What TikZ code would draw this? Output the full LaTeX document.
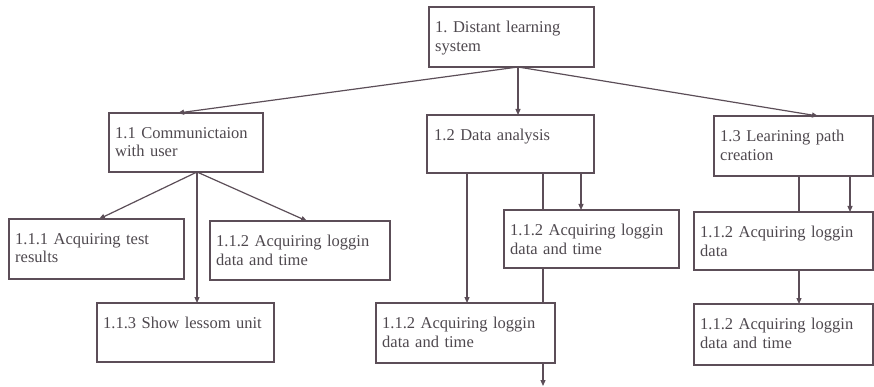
\documentclass[tikz,border=0pt]{standalone}
\usepackage{fontspec}
\setmainfont{Liberation Serif}
\usetikzlibrary{arrows.meta}
\definecolor{edge}{RGB}{92,78,88}
\definecolor{ink}{RGB}{78,72,78}
\tikzset{
  box/.style={draw=edge, line width=1.2pt, rectangle, inner sep=0pt, outer sep=0pt, anchor=north west},
  txt/.style={anchor=north west, inner sep=0pt, align=left, text=ink,
    font=\fontsize{16.5}{18.5}\selectfont\frenchspacing},
  link/.style={draw=edge, line width=1.2pt},
  arr/.style={link, -{Triangle[length=6pt,width=5pt]}},
}
\begin{document}
\begin{tikzpicture}[x=1pt,y=-1pt]
\useasboundingbox (0,0) rectangle (874,387);

% boxes
\node[box, minimum width=165pt, minimum height=60pt] (n1)   at (429,7)   {};
\node[box, minimum width=154pt, minimum height=59pt] (n11)  at (109,113) {};
\node[box, minimum width=167pt, minimum height=58pt] (n12)  at (427,115) {};
\node[box, minimum width=159pt, minimum height=60pt] (n13)  at (714,116) {};
\node[box, minimum width=175pt, minimum height=60pt] (n111) at (9,219)   {};
\node[box, minimum width=180pt, minimum height=59pt] (n112) at (210,221) {};
\node[box, minimum width=177pt, minimum height=59pt] (n113) at (97,303)  {};
\node[box, minimum width=175pt, minimum height=58pt] (n12a) at (504,210) {};
\node[box, minimum width=179pt, minimum height=60pt] (n12b) at (376,303) {};
\node[box, minimum width=179pt, minimum height=58pt] (n13a) at (694,212) {};
\node[box, minimum width=179pt, minimum height=61pt] (n13b) at (694,304) {};

% labels
\node[txt, text width=155pt] (t1)   at (435,21)  {1. Distant learning\\system};
\node[txt, text width=145pt] (t11)  at (115,127) {1.1 Communictaion\\with user};
\node[txt, text width=155pt] (t12)  at (434,129) {1.2 Data analysis};
\node[txt, text width=150pt] (t13)  at (720,130) {1.3 Learining path\\creation};
\node[txt, text width=165pt] (t111) at (15,233)  {1.1.1 Acquiring test\\results};
\node[txt, text width=170pt] (t112) at (216,235) {1.1.2 Acquiring loggin\\data and time};
\node[txt, text width=165pt] (t113) at (103,317) {1.1.3 Show lessom unit};
\node[txt, text width=170pt] (t12a) at (510,224) {1.1.2 Acquiring loggin\\data and time};
\node[txt, text width=170pt] (t12b) at (382,317) {1.1.2 Acquiring loggin\\data and time};
\node[txt, text width=170pt] (t13a) at (700,226) {1.1.2 Acquiring loggin\\data};
\node[txt, text width=170pt] (t13b) at (700,318) {1.1.2 Acquiring loggin\\data and time};

\coordinate (tail) at (543,386);

% connectors from the root
\draw[arr] ([xshift=89pt]n1.south west) -- ([xshift=69pt]n11.north west);
\draw[arr] ([xshift=89pt]n1.south west) -- ([xshift=91pt]n12.north west);
\draw[arr] ([xshift=89pt]n1.south west) -- ([xshift=104pt]n13.north west);

% 1.1 subtree
\draw[arr] ([xshift=88pt]n11.south west) -- ([xshift=90pt]n111.north west);
\draw[arr] ([xshift=88pt]n11.south west) -- ([xshift=97pt]n112.north west);
\draw[arr] ([xshift=88pt]n11.south west) -- ([xshift=100pt]n113.north west);

% 1.2 subtree
\draw[arr]  ([xshift=40pt]n12.south west)  -- ([xshift=91pt]n12b.north west);
\draw[link] ([xshift=116pt]n12.south west) -- ([xshift=39pt]n12a.north west);
\draw[arr]  ([xshift=154pt]n12.south west) -- ([xshift=77pt]n12a.north west);
\draw[link] ([xshift=39pt]n12a.south west) -- ([xshift=167pt]n12b.north west);
\draw[arr]  ([xshift=167pt]n12b.south west) -- (tail);

% 1.3 subtree
\draw[link] ([xshift=85pt]n13.south west)  -- ([xshift=105pt]n13a.north west);
\draw[arr]  ([xshift=136pt]n13.south west) -- ([xshift=156pt]n13a.north west);
\draw[arr]  ([xshift=105pt]n13a.south west) -- ([xshift=105pt]n13b.north west);
\end{tikzpicture}
\end{document}
